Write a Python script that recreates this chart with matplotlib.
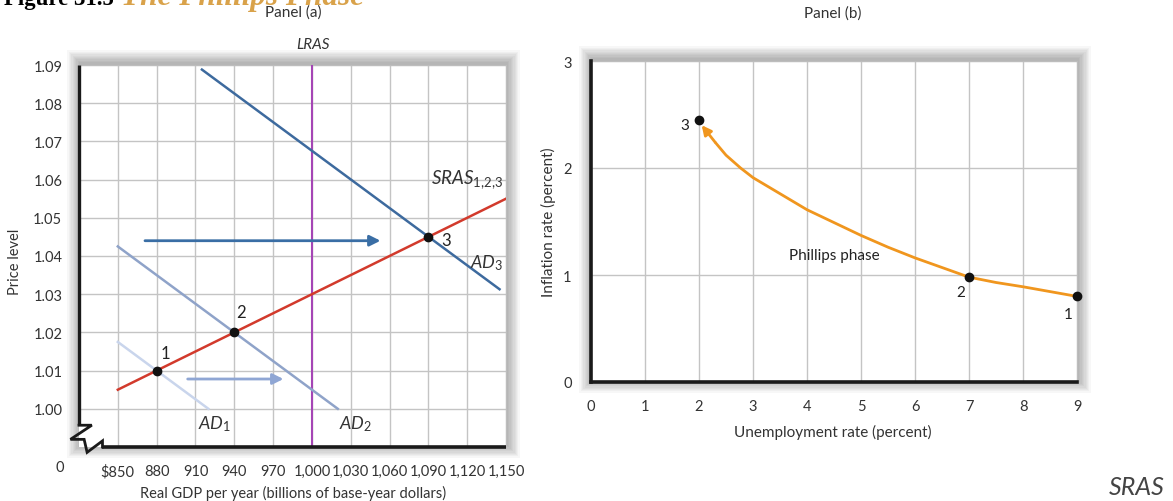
import matplotlib
matplotlib.use('Agg')
import matplotlib.pyplot as plt
from matplotlib.patches import Rectangle

plt.rcParams['font.family'] = ['Lato', 'DejaVu Sans']
plt.rcParams['mathtext.fontset'] = 'custom'
plt.rcParams['mathtext.rm'] = 'Lato'
plt.rcParams['mathtext.it'] = 'Lato:italic'

# ---------------- data: panel (a) ----------------
gdp_ticks = [850, 880, 910, 940, 970, 1000, 1030, 1060, 1090, 1120, 1150]
gdp_tick_labels = ['$850', '880', '910', '940', '970', '1,000', '1,030',
                   '1,060', '1,090', '1,120', '1,150']
price_ticks = [1.00, 1.01, 1.02, 1.03, 1.04, 1.05, 1.06, 1.07, 1.08, 1.09]
lras_gdp = 1000
sras_gdp = [850, 1150]
sras_price = [1.005, 1.055]
ad1_gdp = [850, 920]
ad1_price = [1.0175, 1.000]
ad2_gdp = [850, 1020]
ad2_price = [1.0425, 1.000]
ad3_gdp = [915, 1145]
ad3_price = [1.0888, 1.0313]
eq_gdp = [880, 940, 1090]
eq_price = [1.010, 1.020, 1.045]
eq_labels = ['1', '2', '3']
shift_dark = [871, 1053, 1.044]    # start gdp, end gdp, price
shift_light = [904, 978, 1.0078]

# ---------------- data: panel (b) ----------------
unemp_ticks = [0, 1, 2, 3, 4, 5, 6, 7, 8, 9]
infl_ticks = [0, 1, 2, 3]
pts_unemp = [9, 7, 2]
pts_infl = [0.80, 0.98, 2.45]
pts_labels = ['1', '2', '3']
curve_unemp = [9.0, 8.5, 8.0, 7.5, 7.0, 6.5, 6.0, 5.5, 5.0, 4.5, 4.0, 3.5, 3.0, 2.77, 2.5, 2.3]
curve_infl = [0.80, 0.845, 0.89, 0.93, 0.98, 1.07, 1.16, 1.26, 1.37, 1.49, 1.61, 1.76, 1.91, 2.00, 2.12, 2.24]
arrow_tip = [2.05, 2.40]

W, H = 1173, 502
fig = plt.figure(figsize=(W / 100, H / 100), dpi=100)
fig.patch.set_facecolor('white')


def fx(px):
    return px / W


def fy(py):
    return 1 - py / H


def add_axes_px(l, t, r, b):
    return fig.add_axes([fx(l), fy(b), fx(r) - fx(l), fy(t) - fy(b)])


def add_shadow(l, t, r, b):
    for i in range(10):
        pad = 1.0 + i * 1.3
        fig.patches.append(Rectangle((fx(l - pad + 1), fy(b + pad - 2)),
                                     (r - l + 2 * pad) / W, (b - t + 2 * pad) / H,
                                     transform=fig.transFigure, facecolor='black',
                                     alpha=0.03, edgecolor='none', zorder=-5))


grid_c = '#c4c4c4'
tick_fs = 10.5
txt_c = '#333333'

# ---------------- panel (a) ----------------
La, Ta, Ra, Ba = 79, 66, 506, 448
add_shadow(La, Ta, Ra, Ba)
ax = add_axes_px(La, Ta, Ra, Ba)
ax.set_facecolor('white')
ax.set_xlim(820, 1150)
ax.set_ylim(0.99, 1.09)
ax.set_xticks(gdp_ticks)
ax.set_xticklabels(gdp_tick_labels, fontsize=tick_fs, color=txt_c)
ax.set_yticks(price_ticks)
ax.set_yticklabels(['%.2f' % v for v in price_ticks], fontsize=tick_fs, color=txt_c)
ax.tick_params(length=0, pad=12)
ax.grid(True, color=grid_c, lw=1.0)
ax.set_axisbelow(True)
for s in ['left', 'bottom']:
    ax.spines[s].set_visible(False)
for s in ['top', 'right']:
    ax.spines[s].set_color('#bdbdbd')
    ax.spines[s].set_linewidth(0.8)

# axes with break symbol (axes-fraction coordinates)
T = ax.transAxes
ax.plot([0, 0], [1, 0.057], color='#1a1a1a', lw=2.4, clip_on=False, zorder=6,
        solid_capstyle='butt', transform=T)
ax.plot([0, 0.03, -0.02, 0.012, 0.019, 0.055, 0.055],
        [0.057, 0.057, 0.02, 0.02, -0.014, 0.016, 0.0],
        color='#1a1a1a', lw=2.0, clip_on=False, zorder=6, transform=T, solid_joinstyle='miter')
ax.plot([0.055, 1], [0, 0], color='#1a1a1a', lw=2.6, clip_on=False, zorder=6,
        solid_capstyle='butt', transform=T)

ax.axvline(lras_gdp, color='#a545b5', lw=1.5, zorder=3)
ax.plot(ad1_gdp, ad1_price, color='#c9d5ec', lw=1.8, zorder=3)
ax.plot(ad2_gdp, ad2_price, color='#8fa3c9', lw=1.8, zorder=3)
ax.plot(ad3_gdp, ad3_price, color='#3d6a9e', lw=1.8, zorder=3)
ax.plot(sras_gdp, sras_price, color='#d23a2c', lw=1.8, zorder=4)
ax.plot(eq_gdp, eq_price, 'o', color='#111111', ms=6, zorder=5)

ax.annotate('', xy=(shift_dark[1], shift_dark[2]), xytext=(shift_dark[0], shift_dark[2]),
            arrowprops=dict(arrowstyle='-|>', color='#3a6ea5', lw=2.0, mutation_scale=16,
                            shrinkA=0, shrinkB=0), zorder=4)
ax.annotate('', xy=(shift_light[1], shift_light[2]), xytext=(shift_light[0], shift_light[2]),
            arrowprops=dict(arrowstyle='-|>', color='#8fa6d4', lw=2.0, mutation_scale=16,
                            shrinkA=0, shrinkB=0), zorder=4)

offs = [(6, 13), (5, 15), (13, -2)]
for g, p, lab, o in zip(eq_gdp, eq_price, eq_labels, offs):
    ax.annotate(lab, (g, p), xytext=o, textcoords='offset points', fontsize=12,
                ha='center', va='center', color='#222222', zorder=6)

ax.text(1148, 1.0572, r'$\mathit{SRAS}_{1,\!2,\!3}$', fontsize=13.5, ha='right', va='bottom', color=txt_c)
ax.text(1148, 1.0385, r'$\mathit{AD}_3$', fontsize=13, ha='right', va='center', color=txt_c)
ax.text(925, 0.9963, r'$\mathit{AD}_1$', fontsize=13, ha='center', va='center', color=txt_c)
ax.text(1034, 0.9963, r'$\mathit{AD}_2$', fontsize=13, ha='center', va='center', color=txt_c)

fig.text(fx(60), fy(468), '0', fontsize=tick_fs, ha='center', va='center', color=txt_c)
fig.text(fx(293), fy(493), 'Real GDP per year (billions of base-year dollars)', fontsize=10.5,
         ha='center', va='center', color=txt_c)
fig.text(fx(15), fy(262), 'Price level', fontsize=10.5, rotation=90, ha='center', va='center',
         color=txt_c)
fig.text(fx(293), fy(13), 'Panel (a)', fontsize=11, ha='center', va='center', color=txt_c)
fig.text(fx(313), fy(45), 'LRAS', fontsize=11, style='italic', ha='center', va='center', color=txt_c)

# ---------------- panel (b) ----------------
Lb, Tb, Rb, Bb = 591, 62, 1077, 383
add_shadow(Lb, Tb, Rb, Bb)
bx = add_axes_px(Lb, Tb, Rb, Bb)
bx.set_facecolor('white')
bx.set_xlim(0, 9)
bx.set_ylim(0, 3)
bx.set_xticks(unemp_ticks)
bx.set_xticklabels([str(v) for v in unemp_ticks], fontsize=tick_fs, color=txt_c)
bx.set_yticks(infl_ticks)
bx.set_yticklabels([str(v) for v in infl_ticks], fontsize=tick_fs, color=txt_c)
bx.tick_params(axis='x', length=0, pad=12)
bx.tick_params(axis='y', length=0, pad=14)
bx.grid(True, color=grid_c, lw=1.0)
bx.set_axisbelow(True)
for s in ['left', 'bottom']:
    bx.spines[s].set_color('#1a1a1a')
    bx.spines[s].set_linewidth(2.6)
    bx.spines[s].set_zorder(6)
for s in ['top', 'right']:
    bx.spines[s].set_color('#bdbdbd')
    bx.spines[s].set_linewidth(0.8)

bx.plot(curve_unemp, curve_infl, color='#f0961e', lw=2.0, zorder=3, solid_capstyle='butt',
        solid_joinstyle='round')
bx.annotate('', xy=(arrow_tip[0], arrow_tip[1]), xytext=(curve_unemp[-1], curve_infl[-1]),
            arrowprops=dict(arrowstyle='-|>', color='#f0961e', lw=2.0, mutation_scale=14,
                            shrinkA=0, shrinkB=0), zorder=3)
bx.plot(pts_unemp, pts_infl, 'o', color='#111111', ms=6, zorder=5, clip_on=False)
offs_b = [(-6, -13), (-6, -11), (-10, -4)]
for u, p, lab, o in zip(pts_unemp, pts_infl, pts_labels, offs_b):
    bx.annotate(lab, (u, p), xytext=o, textcoords='offset points', fontsize=11,
                ha='center', va='center', color='#222222', zorder=6)
bx.text(4.5, 1.19, 'Phillips phase', fontsize=11, ha='center', va='center', color='#222222')

fig.text(fx(833), fy(432), 'Unemployment rate (percent)', fontsize=11, ha='center', va='center',
         color=txt_c)
fig.text(fx(548), fy(222), 'Inflation rate (percent)', fontsize=11, rotation=90, ha='center',
         va='center', color=txt_c)
fig.text(fx(833), fy(14), 'Panel (b)', fontsize=11, ha='center', va='center', color=txt_c)

# ---------------- extra text ----------------
fig.text(fx(1165), fy(488), 'SRAS', fontsize=18, style='italic', ha='right', va='center', color='#444444')
fig.text(fx(4), fy(4.5), 'Figure 31.5', fontsize=16.5, fontweight='bold', family='Liberation Serif',
         ha='left', va='baseline', color='black')
fig.text(fx(121), fy(4.5), 'The Phillips Phase', fontsize=22.5, fontweight='bold', style='italic',
         family='Liberation Serif', ha='left', va='baseline', color='#d9a24a')

fig.savefig('out.png', dpi=100, facecolor='white')
